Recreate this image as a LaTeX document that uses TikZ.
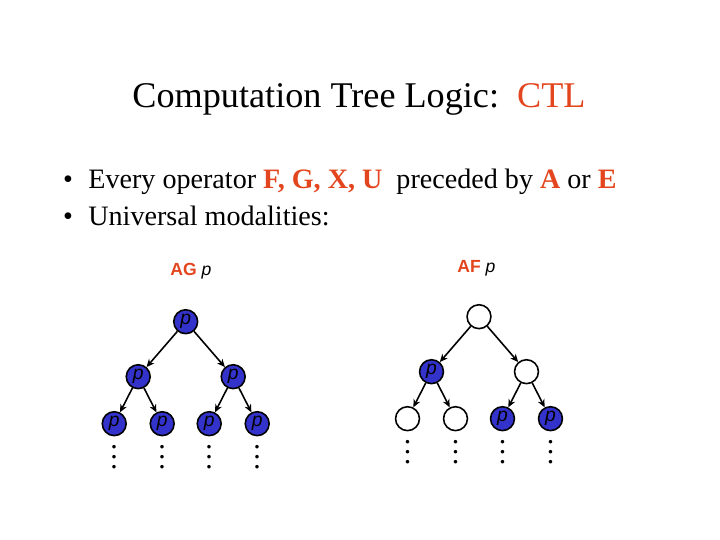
\documentclass[tikz,border=0pt]{standalone}
\usepackage{fontspec}
\setmainfont{Liberation Serif}
\setsansfont{Liberation Sans}
\usetikzlibrary{arrows.meta, positioning}

\definecolor{ctlred}{RGB}{227,70,30}
\definecolor{ctlblue}{RGB}{51,51,204}
\newcommand{\dotcolumn}{\vbox{\baselineskip=5.7pt\lineskiplimit=0pt\hbox{.}\hbox{.}\hbox{.}}}

\begin{document}
\begin{tikzpicture}[
    x=0.02cm, y=-0.02cm,
    node distance=1.1cm and 0.95cm,
    state/.style={circle, draw, line width=0.9pt, minimum size=13.6pt, inner sep=0pt, font=\sffamily\itshape\fontsize{11}{11}\selectfont},
    pstate/.style={state, fill=ctlblue},
    arrow/.style={-{Stealth[length=4.5pt, width=4pt]}, line width=0.9pt},
    dotcol/.style={inner sep=0pt, font=\fontsize{17}{17}\selectfont},
    bigtext/.style={anchor=base west, inner sep=0pt, font=\fontsize{16}{16}\selectfont},
    label/.style={anchor=base west, inner sep=0pt, font=\sffamily\fontsize{10}{10}\selectfont}
]
\useasboundingbox (0,0) rectangle (720,540);

% heading and bullets
\node[anchor=base, font=\fontsize{20.6}{20.6}\selectfont] (title) at (359,108) {Computation Tree Logic:~~\textcolor{ctlred}{CTL}};
\node[bigtext, anchor=base] (dot1) at (68,189) {\textbullet};
\node[bigtext] (item1) at (88,189) {Every operator \textcolor{ctlred}{\textbf{F, G, X, U}}~~preceded by \textcolor{ctlred}{\textbf{A}} or \textcolor{ctlred}{\textbf{E}}};
\node[bigtext, anchor=base] (dot2) at (68,226) {\textbullet};
\node[bigtext] (item2) at (88,226) {Universal modalities:};

% AG p
\node[label] (aglabel) at (170,276) {\textcolor{ctlred}{\textbf{AG}} \textit{p}};
\node[pstate] (g0) at (185.7,321.7) {p};
\node[pstate, on grid, below left=of g0] (g1) {p};
\node[pstate, on grid, below right=of g0] (g2) {p};
\node[pstate, on grid, below left=0.94cm and 0.48cm of g1] (g11) {p};
\node[pstate, on grid, below right=0.94cm and 0.48cm of g1] (g12) {p};
\node[pstate, on grid, below left=0.94cm and 0.48cm of g2] (g21) {p};
\node[pstate, on grid, below right=0.94cm and 0.48cm of g2] (g22) {p};
\draw[arrow] (g0) -- (g1);
\draw[arrow] (g0) -- (g2);
\draw[arrow] (g1) -- (g11);
\draw[arrow] (g1) -- (g12);
\draw[arrow] (g2) -- (g21);
\draw[arrow] (g2) -- (g22);
\node[dotcol, below=5pt of g11] (gd1) {\dotcolumn};
\node[dotcol, below=5pt of g12] (gd2) {\dotcolumn};
\node[dotcol, below=5pt of g21] (gd3) {\dotcolumn};
\node[dotcol, below=5pt of g22] (gd4) {\dotcolumn};

% AF p
\node[label] (aflabel) at (457,273) {\textcolor{ctlred}{\textbf{AF}} \textit{p}};
\node[state] (f0) at (479,316.7) {};
\node[pstate, on grid, below left=of f0] (f1) {p};
\node[state, on grid, below right=of f0] (f2) {};
\node[state, on grid, below left=0.94cm and 0.48cm of f1] (f11) {};
\node[state, on grid, below right=0.94cm and 0.48cm of f1] (f12) {};
\node[pstate, on grid, below left=0.94cm and 0.48cm of f2] (f21) {p};
\node[pstate, on grid, below right=0.94cm and 0.48cm of f2] (f22) {p};
\draw[arrow] (f0) -- (f1);
\draw[arrow] (f0) -- (f2);
\draw[arrow] (f1) -- (f11);
\draw[arrow] (f1) -- (f12);
\draw[arrow] (f2) -- (f21);
\draw[arrow] (f2) -- (f22);
\node[dotcol, below=5pt of f11] (fd1) {\dotcolumn};
\node[dotcol, below=5pt of f12] (fd2) {\dotcolumn};
\node[dotcol, below=5pt of f21] (fd3) {\dotcolumn};
\node[dotcol, below=5pt of f22] (fd4) {\dotcolumn};
\end{tikzpicture}
\end{document}
